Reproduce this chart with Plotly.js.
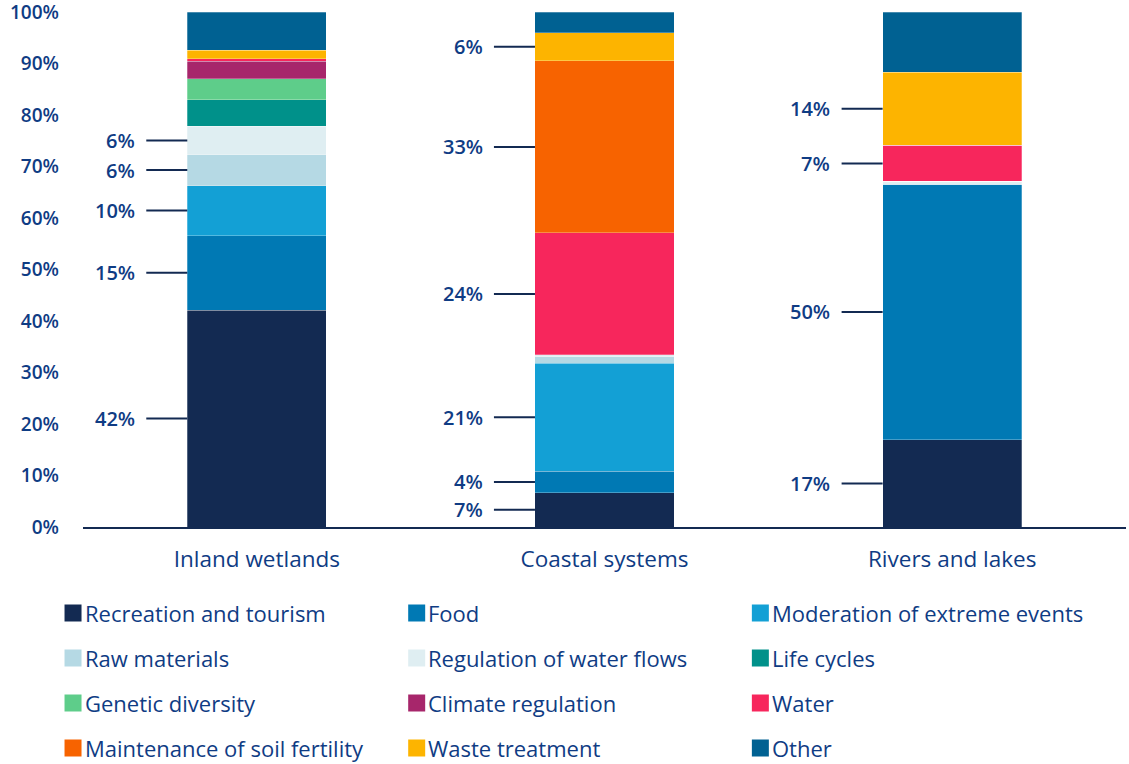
<!DOCTYPE html>
<html>
<head>
<meta charset="utf-8">
<script src="https://cdn.plot.ly/plotly-3.0.1.min.js"></script>
<style>html,body{margin:0;padding:0;background:#fff;}#chart{width:1129px;height:764px;}</style>
</head>
<body>
<div id="chart"></div>
<script>
// ---- data ----
const categories = ['Inland wetlands', 'Coastal systems', 'Rivers and lakes'];
const seriesNames = ['Recreation and tourism', 'Food', 'Moderation of extreme events',
  'Raw materials', 'Regulation of water flows', 'Life cycles',
  'Genetic diversity', 'Climate regulation', 'Water',
  'Maintenance of soil fertility', 'Waste treatment', 'Other'];
const recreation = [42.1, 6.7, 16.9];
const food = [14.5, 4.1, 49.7];
const moderation = [9.7, 21.0, 0];
const rawMaterials = [6.0, 1.3, 0];
const regulationWaterFlows = [5.5, 0.3, 0.5];
const lifeCycles = [5.2, 0, 0];
const geneticDiversity = [4.0, 0, 0];
const climateRegulation = [3.4, 0, 0];
const water = [0.5, 23.7, 7.0];
const soilFertility = [0, 33.4, 0];
const wasteTreatment = [1.7, 5.5, 14.2];
const other = [7.4, 4.0, 11.7];
const seriesValues = [recreation, food, moderation, rawMaterials, regulationWaterFlows,
  lifeCycles, geneticDiversity, climateRegulation, water, soilFertility, wasteTreatment, other];
const seriesColors = ['#132A52', '#0079B4', '#13A0D5', '#B5D9E4', '#DFEEF2', '#00918A',
  '#5ECD8A', '#A7266B', '#F7265C', '#F76300', '#FDB400', '#006192'];
const yTickValues = [0, 10, 20, 30, 40, 50, 60, 70, 80, 90, 100];
// which series carry a value label, per category
const labelledInland = ['Recreation and tourism', 'Food', 'Moderation of extreme events', 'Raw materials', 'Regulation of water flows'];
const labelledCoastal = ['Recreation and tourism', 'Food', 'Moderation of extreme events', 'Water', 'Maintenance of soil fertility', 'Waste treatment'];
const labelledRivers = ['Recreation and tourism', 'Food', 'Water', 'Waste treatment'];
const labelled = [labelledInland, labelledCoastal, labelledRivers];

// ---- styling ----
const TXT = '#0F3C84';
const FONT = 'Open Sans, sans-serif';
const W = 1129, H = 764;
const M = {l: 82.5, r: 2.5, t: 12, b: 237};
const PW = W - M.l - M.r, PH = H - M.t - M.b;
const px2paperX = p => (p - M.l) / PW;
const px2paperY = p => (H - M.b - p) / PH;

const traces = seriesNames.map((name, i) => ({
  type: 'bar',
  name: name,
  x: categories,
  y: seriesValues[i],
  width: 0.4,
  marker: {color: seriesColors[i], line: {color: 'rgba(255,255,255,0.45)', width: 0.6}},
  showlegend: false,
  hoverinfo: 'name+y'
}));

const shapes = [];
const annotations = [];
categories.forEach((cat, ci) => {
  let base = 0;
  seriesNames.forEach((name, si) => {
    const v = seriesValues[si][ci];
    const mid = base + v / 2;
    base += v;
    if (labelled[ci].indexOf(name) === -1) return;
    shapes.push({type: 'line', xref: 'x', yref: 'y', x0: ci - 0.318, x1: ci - 0.2, y0: mid, y1: mid,
      line: {color: '#132A52', width: 2}});
    annotations.push({xref: 'x', yref: 'y', x: ci - 0.345, y: mid, xanchor: 'right', yanchor: 'middle',
      showarrow: false, text: Math.round(v) + '%', font: {family: FONT, size: 20, color: TXT, weight: 600}});
  });
});

// legend drawn as 3 columns x 4 rows of swatches + labels
const colX = [64, 408, 752];
const rowYpx = [613, 658, 703, 748];
seriesNames.forEach((name, i) => {
  const c = i % 3, r = Math.floor(i / 3);
  const ax = px2paperX(colX[c]), ay = px2paperY(rowYpx[r]);
  shapes.push({type: 'rect', xref: 'paper', yref: 'paper', xsizemode: 'pixel', ysizemode: 'pixel',
    xanchor: ax, yanchor: ay, x0: 0, x1: 17, y0: -8.5, y1: 8.5,
    fillcolor: seriesColors[i], line: {width: 0}});
  annotations.push({xref: 'paper', yref: 'paper', x: px2paperX(colX[c] + 18), y: ay,
    xanchor: 'left', yanchor: 'middle', showarrow: false, text: name,
    font: {family: FONT, size: 22, color: TXT}});
});

const layout = {
  width: W, height: H,
  margin: M,
  paper_bgcolor: '#fff', plot_bgcolor: '#fff',
  barmode: 'stack',
  font: {family: FONT, color: TXT},
  showlegend: false,
  xaxis: {
    type: 'category', range: [-0.5, 2.5], showgrid: false, zeroline: false,
    showline: true, linecolor: '#132A52', linewidth: 2, ticks: '',
    tickfont: {family: FONT, size: 22.5, color: TXT}, ticklabelstandoff: 11
  },
  yaxis: {
    range: [0, 100], tickmode: 'array', tickvals: yTickValues,
    ticktext: yTickValues.map(v => v + '%'),
    showgrid: false, zeroline: false, showline: false, ticks: '',
    tickfont: {family: FONT, size: 19, color: TXT, weight: 600}, ticklabelstandoff: 23,
    ticklabeloverflow: 'allow'
  },
  shapes: shapes,
  annotations: annotations
};

Plotly.newPlot('chart', traces, layout, {displayModeBar: false, responsive: false});
</script>
</body>
</html>
